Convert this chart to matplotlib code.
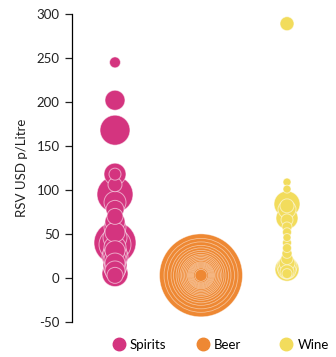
import matplotlib
matplotlib.use("Agg")
import matplotlib.pyplot as plt
from matplotlib.lines import Line2D
import numpy as np

# Retail sales value per litre (USD) and volume for each product, by category
categories = ["Spirits", "Beer", "Wine"]
colors = ["#d4347f", "#ee8833", "#f2dc5c"]

spirits_rsv = [245, 202, 168, 118, 118, 106, 95, 86, 78, 70, 64, 58, 52, 46, 40, 38,
               35, 31, 28, 24, 21, 17, 14, 11, 8, 5, 3]
spirits_volume = [30, 100, 225, 121, 36, 49, 324, 121, 81, 64, 100, 121, 100, 144,
                  441, 256, 121, 100, 144, 169, 121, 100, 144, 121, 100, 169, 64]

beer_rsv = [3] * 20
beer_volume = [1722, 1369, 1122, 900, 756, 625, 529, 441, 380, 324, 272, 225, 182,
               156, 132, 110, 90, 72, 56, 36]

wine_rsv = [289, 109, 101, 84, 82, 78, 68, 66, 58, 52, 46, 40, 34, 28, 22, 17, 13,
            10, 9, 7, 5]
wine_volume = [49, 16, 16, 169, 49, 81, 121, 36, 25, 20, 16, 20, 20, 25, 36, 64,
               100, 144, 81, 49, 25]

yticks = [-50, 0, 50, 100, 150, 200, 250, 300]

SIZE_SCALE = 2.07  # volume units -> marker area (pt^2)

plt.rcParams["font.family"] = ["Lato", "DejaVu Sans"]

fig = plt.figure(figsize=(3.36, 3.57), dpi=100)
ax = fig.add_axes([72 / 336, 35 / 357, 258 / 336, 308 / 357])

series = [(spirits_rsv, spirits_volume), (beer_rsv, beer_volume), (wine_rsv, wine_volume)]
edge_styles = [((1, 1, 1, 0.55), 0.7), ((1, 1, 1, 0.5), 0.55), ((1, 1, 1, 0.55), 0.7)]
for i, ((vals, vols), col, (ec, lw)) in enumerate(zip(series, colors, edge_styles)):
    vals = np.asarray(vals, float)
    vols = np.asarray(vols, float)
    order = np.argsort(-vols, kind="stable")
    ax.scatter(np.full(len(vals), i)[order], vals[order], s=vols[order] * SIZE_SCALE,
               color=col, edgecolors=[ec], linewidths=lw, zorder=3)

ax.set_xlim(-0.5, 2.5)
ax.set_ylim(-50, 300)
ax.set_yticks(yticks)
ax.set_yticklabels([str(t) for t in yticks])
ax.set_xticks([])
for side in ["top", "right", "bottom"]:
    ax.spines[side].set_visible(False)
ax.spines["left"].set_linewidth(0.9)
ax.tick_params(axis="y", length=5, width=0.9, labelsize=9.5, pad=4, colors="#222222")
ax.set_ylabel("RSV USD p/Litre", fontsize=9.5, color="#222222", labelpad=6)

# One legend entry per category, spaced evenly along the bottom
legend_x = [112 / 336, 196 / 336, 279.5 / 336]
for name, col, lx in zip(categories, colors, legend_x):
    h = Line2D([0], [0], marker="o", linestyle="none", markersize=9,
               markerfacecolor=col, markeredgecolor=col)
    fig.legend([h], [name], loc="center left", bbox_to_anchor=(lx, 1 - 345 / 357),
               frameon=False, fontsize=9.5, handletextpad=0.35, handlelength=1.0,
               borderpad=0, borderaxespad=0)

fig.savefig("out.png", dpi=100)
